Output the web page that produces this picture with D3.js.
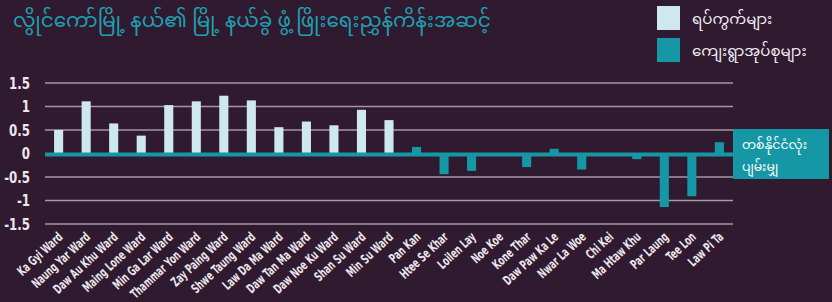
<!DOCTYPE html>
<html>
<head>
<meta charset="utf-8">
<script src="https://cdn.jsdelivr.net/npm/d3@7"></script>
<style>
  body { margin: 0; background: #2f1a2f; }
  #main svg { display: block; }
</style>
</head>
<body>
<div id="main"></div>
<script>
const ctx = {
    w: 832,
    h: 302
};

// townships / village tracts
const categories = ['Ka Gyi Ward', 'Naung Yar Ward', 'Daw Au Khu Ward', 'Maing Lone Ward', 'Min Ga Lar Ward',
    'Thammar Yon Ward', 'Zay Paing Ward', 'Shwe Taung Ward', 'Law Da Ma Ward', 'Daw Tan Ma Ward',
    'Daw Noe Ku Ward', 'Shan Su Ward', 'Min Su Ward', 'Pan Kan', 'Htee Se Khar', 'Loilen Lay', 'Noe Koe',
    'Kone Thar', 'Daw Paw Ka Le', 'Nwar La Woe', 'Chi Kei', 'Ma Htaw Khu', 'Par Laung', 'Tee Lon', 'Law Pi Ta'];
const values = [0.5, 1.11, 0.64, 0.38, 1.03, 1.11, 1.23, 1.13, 0.56, 0.68, 0.6, 0.93, 0.71,
    0.14, -0.44, -0.37, 0, -0.29, 0.1, -0.34, 0, -0.12, -1.14, -0.91, 0.24];
const kinds = ['ward', 'ward', 'ward', 'ward', 'ward', 'ward', 'ward', 'ward', 'ward', 'ward', 'ward', 'ward', 'ward',
    'village', 'village', 'village', 'village', 'village', 'village', 'village', 'village', 'village', 'village', 'village', 'village'];
const yTicks = [1.5, 1, 0.5, 0, -0.5, -1, -1.5];

const title = 'လွိုင်ကော်မြို့ နယ်၏ မြို့ နယ်ခွဲ ဖွံ့ ဖြိုးရေးညွှန်ကိန်းအဆင့်';
const legendKeys = ['ward', 'village'];
const legendLabels = ['ရပ်ကွက်များ', 'ကျေးရွာအုပ်စုများ'];
const avgLabel = ['တစ်နိုင်ငံလုံး', 'ပျမ်းမျှ'];

const colorScale = d3.scaleOrdinal()
    .domain(['ward', 'village'])
    .range(['#cfe8ee', '#1597a6']);

const labelFont = '"Liberation Sans Narrow", "DejaVu Sans Condensed", sans-serif';
const mmFont = '"Noto Sans Myanmar", "Myanmar Text", "Padauk", sans-serif';

function createViz() {
    const svg = d3.select('#main').append('svg')
        .attr('width', ctx.w)
        .attr('height', ctx.h);

    svg.append('rect')
        .attr('width', ctx.w).attr('height', ctx.h)
        .attr('fill', '#2f1a2f');

    const x = d3.scaleBand()
        .domain(categories)
        .range([45, 733])
        .paddingInner(0.67)
        .paddingOuter(0.33);

    const y = d3.scaleLinear()
        .domain([-1.5, 1.5])
        .range([224, 83]);

    // title
    svg.append('text')
        .attr('x', 13)
        .attr('y', 27)
        .attr('fill', '#1fa0b1')
        .style('font-family', mmFont)
        .style('font-size', '20px')
        .text(title);

    // gridlines
    svg.append('g')
        .selectAll('line')
        .data(yTicks.filter(d => d !== 0))
        .enter().append('line')
        .attr('x1', 45).attr('x2', 733)
        .attr('y1', d => y(d)).attr('y2', d => y(d))
        .attr('stroke', '#a696a6')
        .attr('stroke-width', 1.5);

    // y labels
    svg.append('g')
        .selectAll('text')
        .data(yTicks)
        .enter().append('text')
        .attr('transform', d => `translate(30,${y(d)}) scale(0.82,1)`)
        .attr('dy', '0.36em')
        .attr('text-anchor', 'end')
        .attr('fill', '#eee6ee')
        .style('font-family', labelFont)
        .style('font-weight', 'bold')
        .style('font-size', '16px')
        .text(d => d);

    // bars
    svg.append('g')
        .selectAll('rect')
        .data(categories)
        .enter().append('rect')
        .attr('x', d => x(d))
        .attr('width', x.bandwidth())
        .attr('y', (d, i) => y(Math.max(0, values[i])))
        .attr('height', (d, i) => Math.abs(y(values[i]) - y(0)))
        .attr('fill', (d, i) => colorScale(kinds[i]));

    // national average line
    svg.append('line')
        .attr('x1', 45).attr('x2', 740)
        .attr('y1', y(0) + 1).attr('y2', y(0) + 1)
        .attr('stroke', '#1597a6')
        .attr('stroke-width', 4);

    // x labels
    svg.append('g')
        .selectAll('text')
        .data(categories)
        .enter().append('text')
        .attr('transform', d => `translate(${x(d) + x.bandwidth() / 2 + 5},${238}) rotate(-43) scale(0.7,1)`)
        .attr('text-anchor', 'end')
        .attr('fill', '#ece6ec')
        .style('font-family', labelFont)
        .style('font-weight', 'bold')
        .style('font-size', '13px')
        .text(d => d);

    // average box
    svg.append('rect')
        .attr('x', 733).attr('y', 129)
        .attr('width', 96).attr('height', 50)
        .attr('fill', '#1597a6');
    svg.append('g')
        .selectAll('text')
        .data(avgLabel)
        .enter().append('text')
        .attr('x', 742)
        .attr('y', (d, i) => 149 + i * 22)
        .attr('fill', '#ffffff')
        .style('font-family', mmFont)
        .style('font-size', '12.5px')
        .text(d => d);

    // legend
    const legend = svg.selectAll('.legend')
        .data(legendKeys)
        .enter().append('g')
        .attr('class', 'legend')
        .attr('transform', (d, i) => `translate(657,${6 + i * 32})`);
    legend.append('rect')
        .attr('width', 23).attr('height', 24)
        .attr('fill', d => colorScale(d));
    legend.append('text')
        .attr('x', 35)
        .attr('y', 18)
        .attr('fill', '#f2eef2')
        .style('font-family', mmFont)
        .style('font-size', '15px')
        .text((d, i) => legendLabels[i]);
}

createViz();
</script>
</body>
</html>
